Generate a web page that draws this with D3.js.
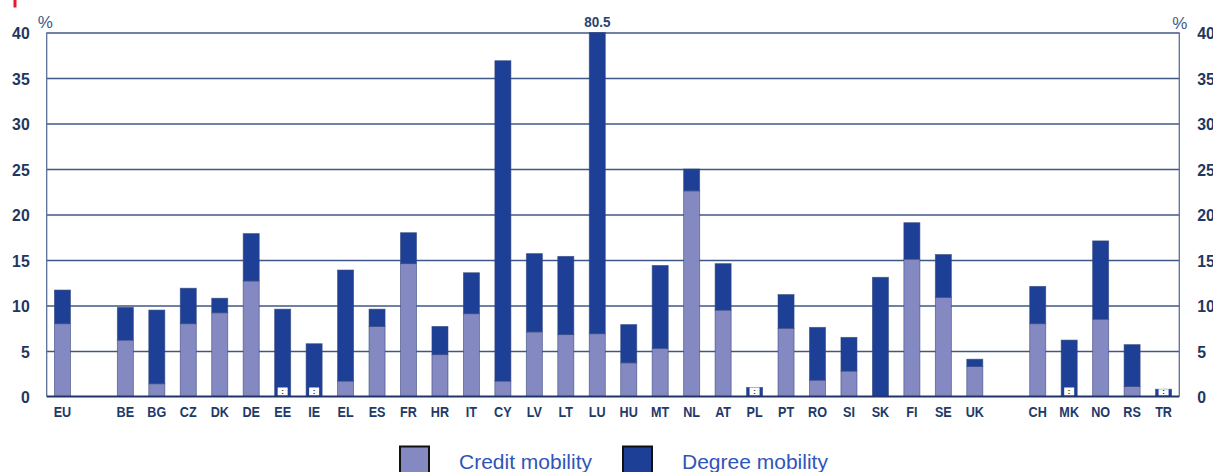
<!DOCTYPE html>
<html>
<head>
<meta charset="utf-8">
<script src="https://cdn.jsdelivr.net/npm/d3@7"></script>
<style>
  html, body { margin: 0; padding: 0; background: #ffffff; }
  svg { display: block; }
</style>
</head>
<body>
<svg id="chart" width="1213" height="472"></svg>
<script>
// Student mobility shares by country (%), stacked: credit + degree mobility
const groupEU = ["EU"];
const groupMembers = ["BE","BG","CZ","DK","DE","EE","IE","EL","ES","FR","HR","IT","CY","LV","LT","LU","HU","MT","NL","AT","PL","PT","RO","SI","SK","FI","SE","UK"];
const groupOthers = ["CH","MK","NO","RS","TR"];
const categories = groupEU.concat(groupMembers, groupOthers);

// null = not available (":")
const creditMobility = [8.0, 6.2,1.4,8.0,9.2,12.7,null,null,1.7,7.7,14.6,4.6,9.1,1.7,7.1,6.8,6.9,3.7,5.3,22.6,9.5,null,7.5,1.8,2.8,0,15.1,10.9,3.3, 8.0,null,8.5,1.1,null];
const degreeMobility = [3.7, 3.6,8.1,3.9,1.6,5.2,9.6,5.8,12.2,1.9,3.4,3.1,4.5,35.2,8.6,8.6,73.6,4.2,9.1,2.4,5.1,1.0,3.7,5.8,3.7,13.1,4.0,4.7,0.8, 4.1,6.2,8.6,4.6,0.8];

const yTicks = [0,5,10,15,20,25,30,35,40];
const seriesNames = ["Credit mobility","Degree mobility"];
const seriesColors = ["#8489c2","#1e3f96"];

// slots along the x axis, with an empty slot between groups
const slots = groupEU.concat(["gap1"], groupMembers, ["gap2"], groupOthers);

const rows = categories.map((c, i) => {
  const cr = creditMobility[i];
  const base = cr == null ? 0 : cr;
  return { cat: c, credit: cr, creditBase: base, degree: degreeMobility[i], total: base + degreeMobility[i] };
});

const svg = d3.select("#chart");
const plotLeft = 46.7, plotRight = 1179.3, plotTop = 32.5, plotBottom = 396.5;

const x = d3.scaleBand().domain(slots).range([plotLeft, plotRight]).paddingInner(0.49).paddingOuter(0.245);
const y = d3.scaleLinear().domain([0, 40]).range([plotBottom, plotTop]).clamp(true);

const navy = "#1f3760";
const gridColor = "#3f5786";
const font = "'Liberation Sans', Arial, sans-serif";

// condense glyphs horizontally (narrow bold face)
function condense(sel, factor) {
  sel.each(function() {
    const len = this.getComputedTextLength();
    d3.select(this).attr("textLength", len * factor).attr("lengthAdjust", "spacingAndGlyphs");
  });
}

// small red marker at top-left
svg.append("rect").attr("x", 13.5).attr("y", 0).attr("width", 3).attr("height", 7.5).attr("fill", "#e8192c");

// gridlines
const yGrid = d3.axisLeft(y).tickValues(yTicks.filter(t => t > 0)).tickSize(-(plotRight - plotLeft)).tickFormat("");
const gGrid = svg.append("g").attr("transform", `translate(${plotLeft},0)`).call(yGrid);
gGrid.select(".domain").remove();
gGrid.selectAll(".tick line").attr("stroke", gridColor).attr("stroke-width", 1.4);

// side axis lines
svg.append("line").attr("x1", plotLeft).attr("x2", plotLeft).attr("y1", y(40)).attr("y2", y(0))
  .attr("stroke", "#5b6f99").attr("stroke-width", 1.3);
svg.append("line").attr("x1", plotRight).attr("x2", plotRight).attr("y1", y(40)).attr("y2", y(0))
  .attr("stroke", "#5b6f99").attr("stroke-width", 1.3);

// left tick labels
const yLeft = d3.axisLeft(y).tickValues(yTicks).tickSize(0).tickPadding(17);
const gL = svg.append("g").attr("transform", `translate(${plotLeft},0)`).call(yLeft);
gL.select(".domain").remove();
gL.selectAll("text").attr("fill", navy).attr("font-family", font)
  .attr("font-size", 17).attr("font-weight", "bold").attr("dy", "0.36em");
condense(gL.selectAll("text"), 0.93);

// right tick labels
const yRight = d3.axisRight(y).tickValues(yTicks).tickSize(0).tickPadding(18);
const gR = svg.append("g").attr("transform", `translate(${plotRight},0)`).call(yRight);
gR.select(".domain").remove();
gR.selectAll("text").attr("fill", navy).attr("font-family", font)
  .attr("font-size", 17).attr("font-weight", "bold").attr("dy", "0.36em");
condense(gR.selectAll("text"), 0.93);

// unit markers
svg.append("text").attr("x", plotLeft - 1.5).attr("y", 27.5).attr("text-anchor", "middle")
  .attr("fill", "#3d5a8c").attr("font-family", font).attr("font-size", 17).text("%");
svg.append("text").attr("x", plotRight + 0.5).attr("y", 28.5).attr("text-anchor", "middle")
  .attr("fill", "#3d5a8c").attr("font-family", font).attr("font-size", 17).text("%");

// bars
const bw = x.bandwidth();
const gBars = svg.append("g");
const barStroke = "#34477e";

gBars.selectAll("rect.credit").data(rows.filter(d => d.credit != null && d.credit > 0)).join("rect")
  .attr("class", "credit")
  .attr("x", d => x(d.cat)).attr("width", bw)
  .attr("y", d => y(d.credit)).attr("height", d => y(0) - y(d.credit))
  .attr("fill", seriesColors[0]).attr("stroke", barStroke).attr("stroke-width", 0.8).attr("stroke-opacity", 0.7);

gBars.selectAll("rect.degree").data(rows).join("rect")
  .attr("class", "degree")
  .attr("x", d => x(d.cat)).attr("width", bw)
  .attr("y", d => y(d.total)).attr("height", d => y(d.creditBase) - y(d.total))
  .attr("fill", seriesColors[1]).attr("stroke", barStroke).attr("stroke-width", 0.8).attr("stroke-opacity", 0.7);

// not-available flags for credit mobility
const flagW = 10, flagH = 8;
const flags = gBars.selectAll("g.flag").data(rows.filter(d => d.credit == null)).join("g").attr("class", "flag");
flags.append("rect")
  .attr("x", d => x(d.cat) + (bw - flagW) / 2).attr("width", flagW)
  .attr("y", d => Math.max(y(0) - 1 - flagH, y(d.total)))
  .attr("height", d => y(0) - 1 - Math.max(y(0) - 1 - flagH, y(d.total)))
  .attr("fill", "#ffffff");
flags.append("text")
  .attr("x", d => x(d.cat) + bw / 2).attr("y", y(0) - 2.5)
  .attr("text-anchor", "middle").attr("fill", "#222")
  .attr("font-family", font).attr("font-size", 8).attr("font-weight", "bold")
  .text(":");

// baseline
svg.append("line").attr("x1", plotLeft).attr("x2", plotRight).attr("y1", y(0)).attr("y2", y(0))
  .attr("stroke", "#1f3566").attr("stroke-width", 2);

// value label for the bar that exceeds the scale
const overflow = rows.filter(d => d.total > y.domain()[1]);
const gOver = svg.append("g");
gOver.selectAll("text").data(overflow).join("text")
  .attr("x", d => x(d.cat) + bw / 2).attr("y", y(40) - 6)
  .attr("text-anchor", "middle").attr("fill", "#2a426e")
  .attr("font-family", font).attr("font-size", 15.5).attr("font-weight", "bold")
  .text(d => d3.format(".1f")(d.total));
condense(gOver.selectAll("text"), 0.87);

// category axis labels
const xAxis = d3.axisBottom(x).tickSize(0).tickPadding(10.5).tickFormat(d => d.startsWith("gap") ? "" : d);
const gX = svg.append("g").attr("transform", `translate(0,${y(0)})`).call(xAxis);
gX.select(".domain").remove();
gX.selectAll("text").attr("fill", "#21396a").attr("font-family", font)
  .attr("font-size", 14.5).attr("font-weight", "bold");
condense(gX.selectAll("text").filter(function() { return this.textContent !== ""; }), 0.87);

// legend
const legendX = [400, 623];
const leg = svg.append("g").selectAll("g").data(seriesNames).join("g")
  .attr("transform", (d, i) => `translate(${legendX[i]},446.5)`);
leg.append("rect").attr("width", 29).attr("height", 30)
  .attr("fill", (d, i) => seriesColors[i]).attr("stroke", "#111").attr("stroke-width", 2);
leg.append("text").attr("x", 59).attr("y", 22)
  .attr("fill", "#2f55b8").attr("font-family", font).attr("font-size", 21)
  .text(d => d);
</script>
</body>
</html>
